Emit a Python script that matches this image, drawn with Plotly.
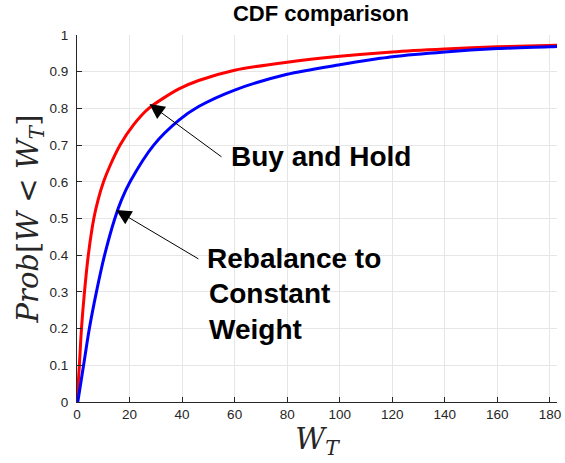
import plotly.graph_objects as go

# Empirical CDF readings for the two strategies
bh_w = [0, 0.9, 1.7, 2.85, 4.3, 6.4, 8.0, 10.1, 12.4, 16.4, 21.5, 27.3, 38.8, 46.3, 60, 80, 100, 120, 140, 160, 182.7]
bh_p = [0, 0.1, 0.2, 0.3, 0.4, 0.5, 0.55, 0.6, 0.641, 0.7, 0.755, 0.8, 0.853, 0.876, 0.904, 0.926, 0.942, 0.954, 0.962, 0.968, 0.972]

rb_w = [0.3, 2.5, 4.7, 7.4, 10.5, 14.4, 16.9, 20.2, 29.2, 38.8, 46.3, 60, 80, 100, 114.2, 120, 140, 160, 180, 182.7]
rb_p = [0, 0.1, 0.2, 0.3, 0.4, 0.5, 0.55, 0.6, 0.7, 0.768, 0.805, 0.850, 0.893, 0.919, 0.935, 0.941, 0.954, 0.963, 0.968, 0.969]

x_ticks = [0, 20, 40, 60, 80, 100, 120, 140, 160, 180]
y_ticks = [0, 0.1, 0.2, 0.3, 0.4, 0.5, 0.6, 0.7, 0.8, 0.9, 1]

AX = "#262626"
GRID = "#e6e6e6"
SANS = "Liberation Sans, Arial, sans-serif"
SERIF = "DejaVu Serif, Liberation Serif, serif"

fig = go.Figure()
fig.add_trace(go.Scatter(x=bh_w, y=bh_p, mode="lines",
                         line=dict(color="#ff0000", width=3, shape="spline", smoothing=0.8),
                         name="Buy and Hold"))
fig.add_trace(go.Scatter(x=rb_w, y=rb_p, mode="lines",
                         line=dict(color="#0000ff", width=3, shape="spline", smoothing=0.8),
                         name="Rebalance to Constant Weight"))

label_font = dict(family=SANS, size=28, color="#000000")
arrow_style = dict(showarrow=True, arrowhead=2, arrowsize=3, arrowwidth=1,
                   arrowcolor="#000000", xref="x", yref="y", axref="x", ayref="y",
                   xanchor="left", yanchor="middle", borderpad=8, font=label_font)

# Labels with arrows: the tail sits at the left edge of each label
fig.add_annotation(x=27.6, y=0.812, ax=55.0, ay=0.668,
                   text="<b>Buy and Hold</b>", **arrow_style)
fig.add_annotation(x=14.9, y=0.523, ax=46.2, ay=0.39,
                   text="<b>Rebalance to</b>", **arrow_style)
fig.add_annotation(x=49.4, y=0.246, xref="x", yref="y",
                   text="<b>Constant<br>Weight</b>",
                   showarrow=False, xanchor="left", yanchor="middle", align="left",
                   font=label_font)

fig.update_layout(
    width=565, height=463,
    margin=dict(l=77, r=4, t=35, b=61),
    paper_bgcolor="white", plot_bgcolor="white",
    showlegend=False,
    title=dict(text="<b>CDF comparison</b>", x=0.568, xanchor="center", y=0.972, yanchor="middle",
               font=dict(family=SANS, size=22, color="#000000")),
    xaxis=dict(range=[0, 182.7], tickvals=x_ticks, ticks="inside", ticklen=5,
               tickcolor=AX, showline=True, linecolor=AX, linewidth=1,
               showgrid=True, gridcolor=GRID, gridwidth=1, zeroline=False,
               ticklabeloverflow="allow",
               tickfont=dict(family=SANS, size=13.5, color=AX),
               title=dict(text="<i>W</i><sub><i>T</i></sub>", standoff=6,
                          font=dict(family=SERIF, size=29, color=AX))),
    yaxis=dict(range=[0, 1], tickvals=y_ticks, ticks="inside", ticklen=5,
               tickcolor=AX, showline=True, linecolor=AX, linewidth=1,
               showgrid=True, gridcolor=GRID, gridwidth=1, zeroline=False,
               ticklabelstandoff=5, ticklabeloverflow="allow",
               tickfont=dict(family=SANS, size=13.5, color=AX),
               title=dict(text="<i>Prob</i>[<i>W</i> &lt; <i>W</i><sub><i>T</i></sub>]", standoff=2,
                          font=dict(family=SERIF, size=29, color=AX))),
)

fig.write_html("out.html")
